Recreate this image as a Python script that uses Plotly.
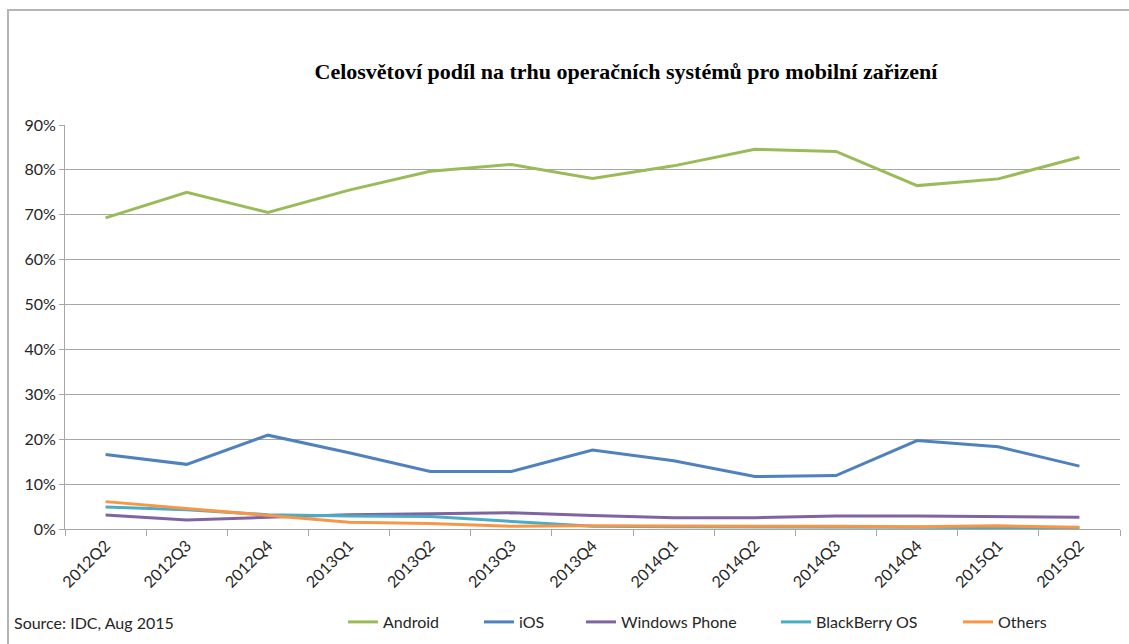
import plotly.graph_objects as go

categories = ["2012Q2", "2012Q3", "2012Q4", "2013Q1", "2013Q2", "2013Q3", "2013Q4",
              "2014Q1", "2014Q2", "2014Q3", "2014Q4", "2015Q1", "2015Q2"]
android = [69.3, 75.0, 70.5, 75.5, 79.7, 81.2, 78.1, 80.9, 84.6, 84.1, 76.5, 78.0, 82.8]
ios = [16.6, 14.4, 20.9, 17.0, 12.8, 12.8, 17.6, 15.2, 11.7, 11.9, 19.7, 18.3, 14.0]
windows_phone = [3.1, 2.0, 2.6, 3.2, 3.4, 3.6, 3.0, 2.5, 2.5, 2.9, 2.9, 2.7, 2.6]
blackberry = [4.9, 4.3, 3.2, 2.9, 2.8, 1.7, 0.6, 0.5, 0.5, 0.5, 0.4, 0.3, 0.3]
others = [6.1, 4.6, 3.0, 1.5, 1.2, 0.6, 0.7, 0.7, 0.6, 0.6, 0.5, 0.7, 0.4]
y_ticks = [0, 10, 20, 30, 40, 50, 60, 70, 80, 90]
y_tick_labels = ["0%", "10%", "20%", "30%", "40%", "50%", "60%", "70%", "80%", "90%"]

W, H = 1129, 644
L, R, T, B = 65, 9, 125, 115
pw, ph = W - L - R, H - T - B

def px_x(x):
    return (x - L) / pw

def px_y(y):
    return (H - B - y) / ph

FONT = "Lato, 'Open Sans', sans-serif"

series = [
    ("Android", android, "#9BBB59", 353),
    ("iOS", ios, "#4F81BD", 489),
    ("Windows Phone", windows_phone, "#8064A2", 591),
    ("BlackBerry OS", blackberry, "#4BACC6", 786),
    ("Others", others, "#F79646", 968),
]

fig = go.Figure()
legend_layouts = {}
for i, (name, vals, color, lx) in enumerate(series):
    lg = "legend" if i == 0 else f"legend{i+1}"
    fig.add_trace(go.Scatter(
        x=categories, y=vals, name=name, mode="lines",
        line=dict(color=color, width=3),
        legend=lg,
    ))
    legend_layouts[lg] = dict(
        xref="container", yref="container",
        x=(lx - 10) / W, y=1 - 622 / H,
        xanchor="left", yanchor="middle",
        orientation="h", bgcolor="rgba(0,0,0,0)",
        font=dict(family=FONT, size=16, color="#262626"),
    )

fig.update_layout(
    width=W, height=H,
    margin=dict(l=L, r=R, t=T, b=B),
    paper_bgcolor="white", plot_bgcolor="white",
    title=dict(
        text="<b>Celosvětoví podíl na trhu operačních systémů pro mobilní zařizení</b>",
        xref="container", yref="container",
        x=626 / W, y=1 - 71 / H, xanchor="center", yanchor="middle",
        font=dict(family="'Liberation Serif', 'Times New Roman', serif", size=22, color="#000000"),
    ),
    showlegend=True,
    **legend_layouts,
)

fig.update_xaxes(
    type="category", categoryorder="array", categoryarray=categories,
    range=[-0.5, len(categories) - 0.5],
    tickson="boundaries", ticks="outside", ticklen=6, tickcolor="#A6A6A6",
    showline=True, linecolor="#A6A6A6", linewidth=1,
    showgrid=False, tickangle=-45,
    tickfont=dict(family=FONT, size=16, color="#262626"),
    fixedrange=True,
)
fig.update_yaxes(
    range=[0, 90], tickmode="array", tickvals=y_ticks, ticktext=y_tick_labels,
    ticks="outside", ticklen=5, tickcolor="#A6A6A6",
    showline=True, linecolor="#A6A6A6", linewidth=1,
    showgrid=True, gridcolor="#A6A6A6", gridwidth=1,
    zeroline=False,
    tickfont=dict(family=FONT, size=16, color="#262626"),
    fixedrange=True,
)

fig.add_annotation(
    text="Source: IDC, Aug 2015", xref="paper", yref="paper",
    x=px_x(12), y=px_y(622), xanchor="left", yanchor="middle",
    showarrow=False,
    font=dict(family=FONT, size=16, color="#262626"),
)

# outer chart frame: left and top edges as one open polyline
fx0, fx1 = px_x(8), px_x(1135)
fy_top, fy_bot = px_y(10), px_y(650)
fig.add_shape(
    type="path", xref="paper", yref="paper",
    path=f"M {fx0},{fy_bot} L {fx0},{fy_top} L {fx1},{fy_top}",
    line=dict(color="#B4B4B4", width=2), fillcolor="rgba(0,0,0,0)", layer="below",
)

fig.write_html("out.html", config={"displayModeBar": False})
